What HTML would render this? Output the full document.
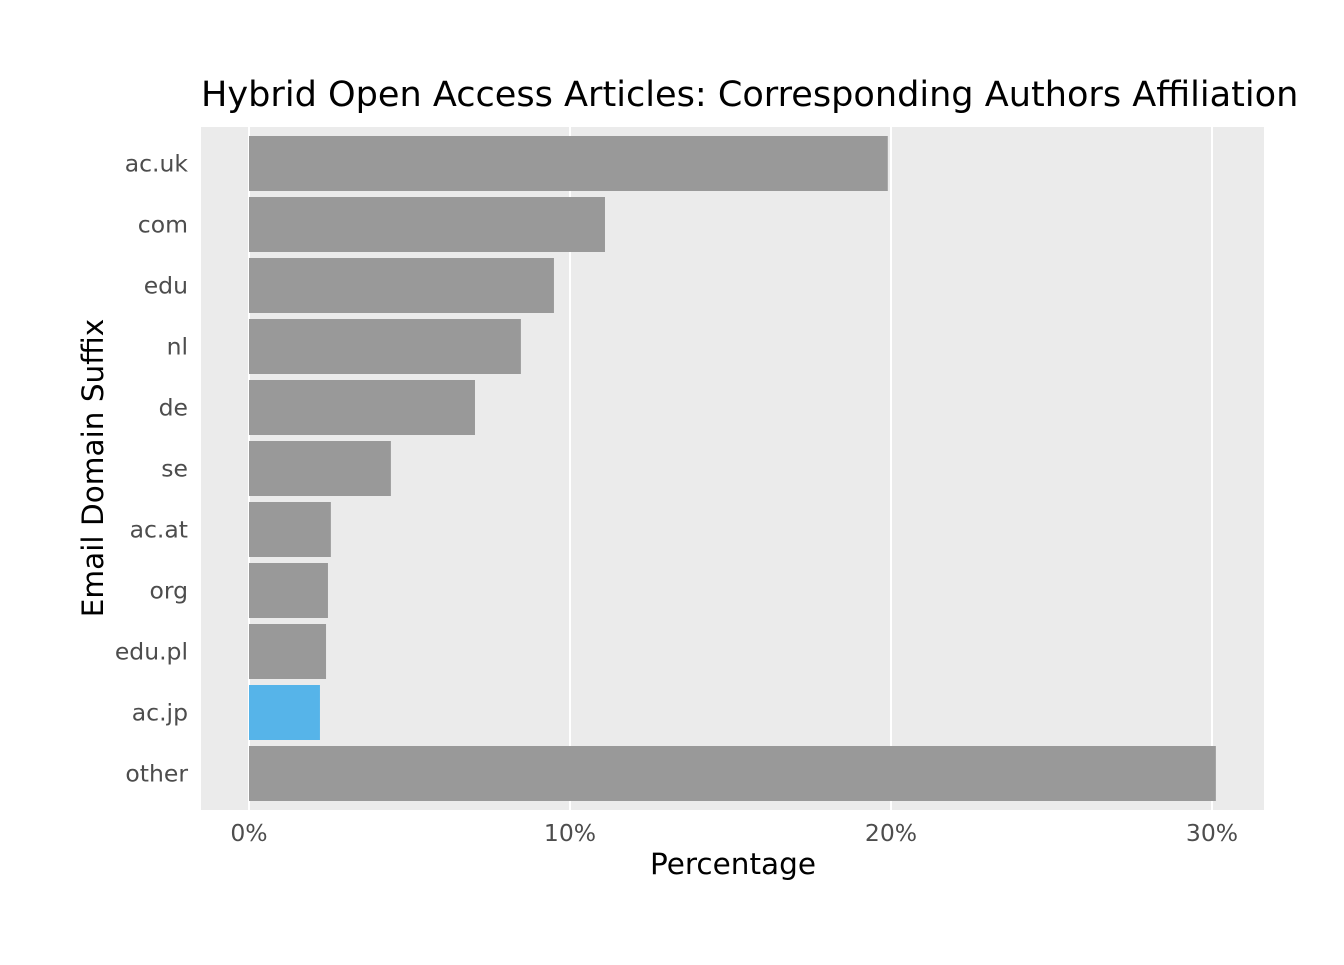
<!DOCTYPE html>
<html><head><meta charset="utf-8"><style>
body{margin:0;background:#fff;}
svg text{font-family:"DejaVu Sans","Liberation Sans",sans-serif;}
</style></head><body>
<svg width="1344" height="960" viewBox="0 0 1344 960">
<rect x="0" y="0" width="1344" height="960" fill="#fff"/>
<text x="201" y="106" font-size="35.1" text-anchor="start" fill="#000">Hybrid Open Access Articles: Corresponding Authors Affiliation</text>
<rect x="201" y="127" width="1063" height="683" fill="#ebebeb"/>
<g id="grid"></g>
<g id="bars"></g>
<g id="ylabels"></g>
<g id="xlabels"></g>
<text x="733" y="874" font-size="29.5" text-anchor="middle" fill="#000">Percentage</text>
<text transform="translate(103,468) rotate(-90)" font-size="29.5" text-anchor="middle" fill="#000">Email Domain Suffix</text>
</svg>
<script>
const categories=["ac.uk","com","edu","nl","de","se","ac.at","org","edu.pl","ac.jp","other"];
const values=[19.9,11.09,9.5,8.47,7.04,4.42,2.55,2.46,2.4,2.21,30.12];
const highlight=["ac.jp"];
const ticks=[0,10,20,30];
const tickLabels=["0%","10%","20%","30%"];
const NS="http://www.w3.org/2000/svg";
function x(v){return 249+v*32.1;}
function yc(i){return 163.5+i*61;}
const bh=55;
function mk(tag,attrs,parent,text){const e=document.createElementNS(NS,tag);for(const k in attrs)e.setAttribute(k,attrs[k]);if(text!==undefined)e.textContent=text;document.getElementById(parent).appendChild(e);return e;}
ticks.forEach((t,i)=>{
 const g=mk('line',{x1:x(t),x2:x(t),y1:127,y2:810,stroke:'#fff','stroke-width':2},'grid');
 
 
 const l=mk('text',{x:x(t),y:841,'font-size':23.5,'text-anchor':'middle',fill:'#4d4d4d'},'xlabels',tickLabels[i]);
 
 
});
categories.forEach((c,i)=>{
 const b=mk('rect',{x:x(0),y:yc(i)-bh/2,width:x(values[i])-x(0),height:bh,fill:highlight.includes(c)?'#56b4e9':'#999999'},'bars');
 
 
 const l=mk('text',{x:188,y:yc(i)+8,'font-size':23.5,'text-anchor':'end',fill:'#4d4d4d'},'ylabels',c);
 
 
});
</script>
</body></html>
